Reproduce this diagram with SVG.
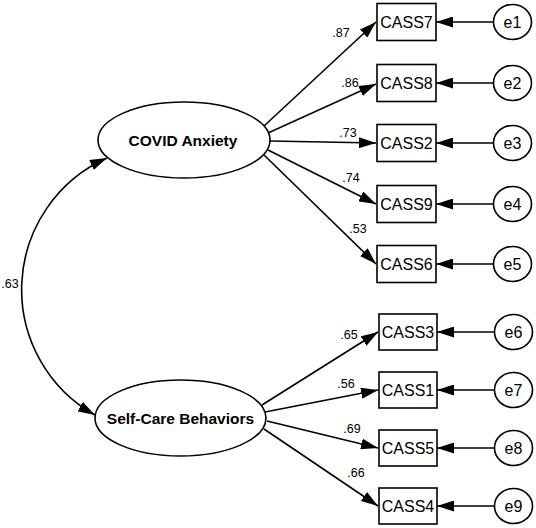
<svg xmlns="http://www.w3.org/2000/svg" width="536" height="528" viewBox="0 0 536 528">
<style>
.bg{fill:#fff}
.shape{fill:#fff;stroke:#000;stroke-width:1.6}
.con{fill:none;stroke:#000;stroke-width:1.6}
.obs{font-family:"Liberation Sans",Arial,sans-serif;font-size:16px;fill:#000;text-anchor:middle}
.lat{font-family:"Liberation Sans",Arial,sans-serif;font-size:15.5px;font-weight:bold;fill:#000;text-anchor:middle}
.lbl{font-family:"Liberation Sans",Arial,sans-serif;font-size:12.5px;fill:#000;text-anchor:middle}
</style>
<defs>
<marker id="arr" markerUnits="userSpaceOnUse" markerWidth="17" markerHeight="11" refX="17" refY="5.5" orient="auto-start-reverse" viewBox="0 0 17 11">
<path d="M0,0 L17,5.5 L0,11 z" fill="#000"/>
</marker>
</defs>
<rect class="bg" x="0" y="0" width="536" height="528"/>

<g id="connectors">
<path class="con" d="M107,158 A144,144 0 0,0 95,415" marker-start="url(#arr)" marker-end="url(#arr)"/>
<line class="con" x1="264" y1="126" x2="376" y2="22" marker-end="url(#arr)"/>
<line class="con" x1="268" y1="133" x2="376" y2="84" marker-end="url(#arr)"/>
<line class="con" x1="270" y1="141" x2="376" y2="143" marker-end="url(#arr)"/>
<line class="con" x1="268" y1="150" x2="376" y2="204" marker-end="url(#arr)"/>
<line class="con" x1="264" y1="155" x2="376" y2="264" marker-end="url(#arr)"/>
<line class="con" x1="262" y1="405" x2="378" y2="332" marker-end="url(#arr)"/>
<line class="con" x1="265" y1="412" x2="378" y2="390" marker-end="url(#arr)"/>
<line class="con" x1="267" y1="421" x2="378" y2="448" marker-end="url(#arr)"/>
<line class="con" x1="264" y1="429" x2="378" y2="506" marker-end="url(#arr)"/>
<line class="con" x1="493.5" y1="22" x2="436" y2="22" marker-end="url(#arr)"/>
<line class="con" x1="493.5" y1="83" x2="436" y2="83" marker-end="url(#arr)"/>
<line class="con" x1="493.5" y1="143" x2="436" y2="143" marker-end="url(#arr)"/>
<line class="con" x1="493.5" y1="204" x2="436" y2="204" marker-end="url(#arr)"/>
<line class="con" x1="493.5" y1="264" x2="436" y2="264" marker-end="url(#arr)"/>
<line class="con" x1="494.5" y1="332" x2="437" y2="332" marker-end="url(#arr)"/>
<line class="con" x1="494.5" y1="390" x2="437" y2="390" marker-end="url(#arr)"/>
<line class="con" x1="494.5" y1="448" x2="437" y2="448" marker-end="url(#arr)"/>
<line class="con" x1="494.5" y1="506" x2="437" y2="506" marker-end="url(#arr)"/>
<text class="lbl" x="10" y="288">.63</text>
<text class="lbl" x="341" y="37">.87</text>
<text class="lbl" x="350" y="87">.86</text>
<text class="lbl" x="348" y="137">.73</text>
<text class="lbl" x="351" y="182">.74</text>
<text class="lbl" x="358" y="233">.53</text>
<text class="lbl" x="349" y="339">.65</text>
<text class="lbl" x="346" y="388">.56</text>
<text class="lbl" x="352" y="433">.69</text>
<text class="lbl" x="356" y="477">.66</text>
</g>

<g id="covid_anxiety">
<ellipse class="shape" cx="184" cy="140" rx="86" ry="38"/>
<text class="lat" x="183" y="145.5">COVID Anxiety</text>
</g>
<g id="self_care">
<ellipse class="shape" cx="180.5" cy="418" rx="85.5" ry="38"/>
<text class="lat" x="180.5" y="423.5">Self-Care Behaviors</text>
</g>

<g id="cass7"><rect class="shape" x="377" y="3.5" width="59" height="37"/><text class="obs" x="406.5" y="28">CASS7</text></g>
<g id="cass8"><rect class="shape" x="377" y="64.5" width="59" height="37"/><text class="obs" x="406.5" y="89">CASS8</text></g>
<g id="cass2"><rect class="shape" x="377" y="124.5" width="59" height="37"/><text class="obs" x="406.5" y="149">CASS2</text></g>
<g id="cass9"><rect class="shape" x="377" y="185.5" width="59" height="37"/><text class="obs" x="406.5" y="210">CASS9</text></g>
<g id="cass6"><rect class="shape" x="377" y="245.5" width="59" height="37"/><text class="obs" x="406.5" y="270">CASS6</text></g>
<g id="cass3"><rect class="shape" x="379" y="314" width="58" height="36"/><text class="obs" x="408" y="338">CASS3</text></g>
<g id="cass1"><rect class="shape" x="379" y="372" width="58" height="36"/><text class="obs" x="408" y="396">CASS1</text></g>
<g id="cass5"><rect class="shape" x="379" y="430" width="58" height="36"/><text class="obs" x="408" y="454">CASS5</text></g>
<g id="cass4"><rect class="shape" x="379" y="488" width="58" height="36"/><text class="obs" x="408" y="512">CASS4</text></g>

<g id="e1"><ellipse class="shape" cx="512.5" cy="22" rx="19" ry="17.5"/><text class="obs" x="512.5" y="28">e1</text></g>
<g id="e2"><ellipse class="shape" cx="512.5" cy="83" rx="19" ry="17.5"/><text class="obs" x="512.5" y="89">e2</text></g>
<g id="e3"><ellipse class="shape" cx="512.5" cy="143" rx="19" ry="17.5"/><text class="obs" x="512.5" y="149">e3</text></g>
<g id="e4"><ellipse class="shape" cx="512.5" cy="204" rx="19" ry="17.5"/><text class="obs" x="512.5" y="210">e4</text></g>
<g id="e5"><ellipse class="shape" cx="512.5" cy="264" rx="19" ry="17.5"/><text class="obs" x="512.5" y="270">e5</text></g>
<g id="e6"><ellipse class="shape" cx="513.5" cy="332" rx="19" ry="17.5"/><text class="obs" x="513.5" y="338">e6</text></g>
<g id="e7"><ellipse class="shape" cx="513.5" cy="390" rx="19" ry="17.5"/><text class="obs" x="513.5" y="396">e7</text></g>
<g id="e8"><ellipse class="shape" cx="513.5" cy="448" rx="19" ry="17.5"/><text class="obs" x="513.5" y="454">e8</text></g>
<g id="e9"><ellipse class="shape" cx="513.5" cy="506" rx="19" ry="17.5"/><text class="obs" x="513.5" y="512">e9</text></g>
</svg>
